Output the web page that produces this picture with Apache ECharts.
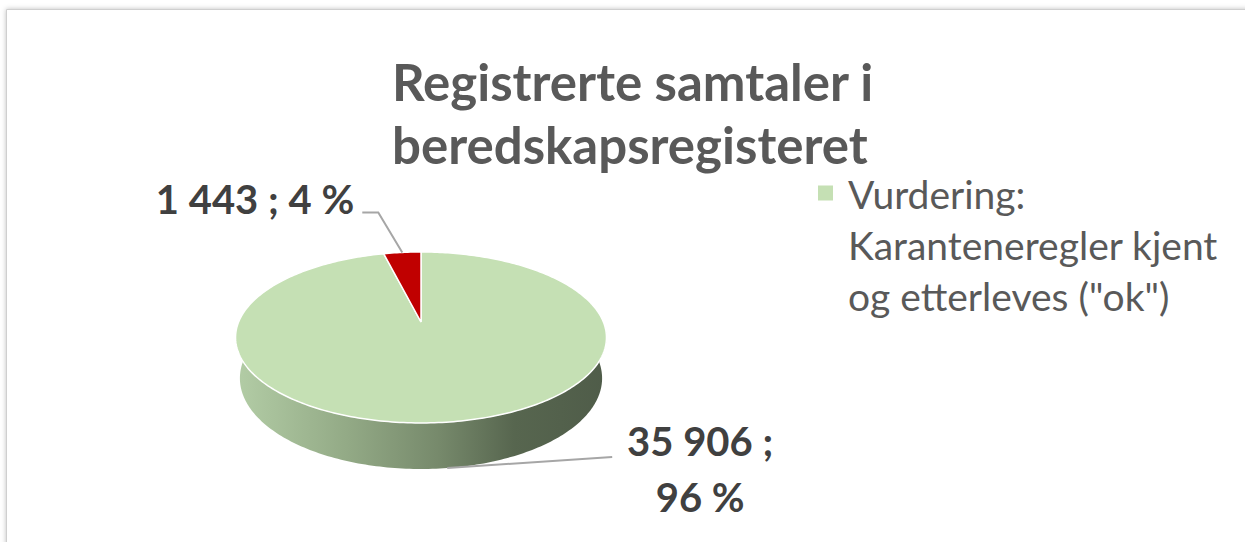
<!DOCTYPE html>
<html>
<head>
<meta charset="utf-8">
<script src="https://cdn.jsdelivr.net/npm/echarts@6/dist/echarts.min.js"></script>
<style>
html,body{margin:0;padding:0;background:#fff;}
#chart{width:1245px;height:542px;}
</style>
</head>
<body>
<div id="chart"></div>
<script>
// ---- data ----
const titleText = 'Registrerte samtaler i\nberedskapsregisteret';
const categories = ['Vurdering: Karanteneregler kjent og etterleves ("ok")', 'Vurdering: Karanteneregler ikke kjent / etterleves ikke'];
const values = [35906, 1443];
const colors = ['#C5E0B4', '#C00000'];
const legendShown = [categories[0]];
const legendLines = ['Vurdering:', 'Karanteneregler kjent', 'og etterleves ("ok")'];

// ---- layout (3D pie projection) ----
const GEO = { cx: 421, cy: 322, k: 182.4, sinA: 0.4534, cosA: 0.891, rd: 0.2031, t: 0.253 };
const FONT = 'Lato';

function fmt(n) { return String(n).replace(/\B(?=(\d{3})+(?!\d))/g, ' '); }

function proj(thetaDeg, r, y) {
  const th = thetaDeg * Math.PI / 180;
  const X = r * Math.sin(th), Z = r * Math.cos(th);
  const w = Z * GEO.cosA - y * GEO.sinA;
  const u = Z * GEO.sinA + y * GEO.cosA;
  const s = 1 / (1 + w * GEO.rd);
  return [GEO.cx + GEO.k * X * s, GEO.cy - GEO.k * u * s];
}

const total = values.reduce((a, b) => a + b, 0);

// label placement rules per slice (offsets from the anchor point on the slice)
const LABEL_RULES = [
  { anchor: 'bottom', pts: [[165, -11]], text: [253, 1], align: 'center', wrap: true },
  { anchor: 'top', pts: [[-24, -40], [-40, -40]], text: [-48, -53], align: 'right', wrap: false }
];

function renderSlice(params, api) {
  const idx = params.seriesIndex;
  const v = api.value(0);
  let before = 0;
  for (let j = 0; j < idx; j++) before += values[j];
  const a0 = before / total * 360;
  const a1 = (before + v) / total * 360;
  const children = [];
  const color = colors[idx];

  // outer wall (front part only)
  const w0 = Math.max(a0, 90), w1 = Math.min(a1, 270);
  if (w1 > w0) {
    const pts = [];
    for (let a = w0; a <= w1 + 1e-6; a += 1) pts.push(proj(Math.min(a, w1), 1, 0));
    for (let a = w1; a >= w0 - 1e-6; a -= 1) pts.push(proj(Math.max(a, w0), 1, -GEO.t));
    const xl = GEO.cx - GEO.k * 1.02, xr = GEO.cx + GEO.k * 1.02;
    const grad = idx === 0 ? {
      type: 'linear', x: xl, y: 0, x2: xr, y2: 0, global: true,
      colorStops: [
        { offset: 0, color: '#b3cda6' }, { offset: 0.3, color: '#93aa86' },
        { offset: 0.55, color: '#76896b' }, { offset: 0.75, color: '#57664f' },
        { offset: 1, color: '#4f5c49' }]
    } : '#8a0000';
    children.push({ type: 'polygon', z2: 1, shape: { points: pts }, style: { fill: grad } });
  }
  // top face
  const top = [proj(0, 0, 0)];
  const n = Math.max(2, Math.ceil(a1 - a0));
  for (let s = 0; s <= n; s++) top.push(proj(a0 + (a1 - a0) * s / n, 1, 0));
  children.push({ type: 'polygon', z2: 10, shape: { points: top }, style: { fill: color, stroke: '#ffffff', lineWidth: 1.5 } });

  // label + leader
  const rule = LABEL_RULES[idx];
  const mid = (a0 + a1) / 2;
  const anc = rule.anchor === 'top' ? proj(mid, 1, 0) : proj(mid, 1, -GEO.t);
  const line = [anc].concat(rule.pts.map(p => [anc[0] + p[0], anc[1] + p[1]]));
  children.push({ type: 'polyline', z2: 20, shape: { points: line }, style: { stroke: '#a6a6a6', lineWidth: 2, fill: null } });
  const pct = Math.round(v / total * 100);
  const txt = fmt(v) + ' ;' + (rule.wrap ? '\n' : ' ') + pct + ' %';
  children.push({
    type: 'text', z2: 20, x: anc[0] + rule.text[0], y: anc[1] + rule.text[1],
    style: { text: txt, fontFamily: FONT, fontWeight: 'bold', fontSize: 40, lineHeight: 56, fill: '#404040', align: rule.align, verticalAlign: 'middle' }
  });
  return { type: 'group', children: children };
}

const chart = echarts.init(document.getElementById('chart'), null, { renderer: 'svg' });
chart.setOption({
  backgroundColor: '#ffffff',
  animation: false,
  title: {
    text: titleText, left: 392, top: 50, padding: 0,
    textStyle: { fontFamily: FONT, fontWeight: 'bold', fontSize: 51, lineHeight: 63, color: '#595959' }
  },
  legend: {
    data: legendShown, orient: 'vertical', left: 818, top: 168, padding: 0,
    itemWidth: 25, itemHeight: 150,
    icon: 'path://M0,16h15v15h-15z M25,0h0.001 M0,150h0.001',
    formatter: () => legendLines.join('\n'),
    textStyle: { fontFamily: FONT, fontSize: 39, lineHeight: 51, color: '#595959' },
    selectedMode: false
  },
  graphic: [{
    type: 'rect', left: 6, top: 9, z: -10, silent: true,
    shape: { width: 1300, height: 600 },
    style: { fill: '#ffffff', stroke: '#cfcfcf', lineWidth: 1, shadowBlur: 5, shadowColor: 'rgba(0,0,0,0.25)' }
  }],
  series: categories.map((c, i) => ({
    type: 'custom', name: c, coordinateSystem: 'none',
    itemStyle: { color: colors[i] },
    data: [values[i]],
    renderItem: renderSlice
  }))
});
</script>
</body>
</html>
